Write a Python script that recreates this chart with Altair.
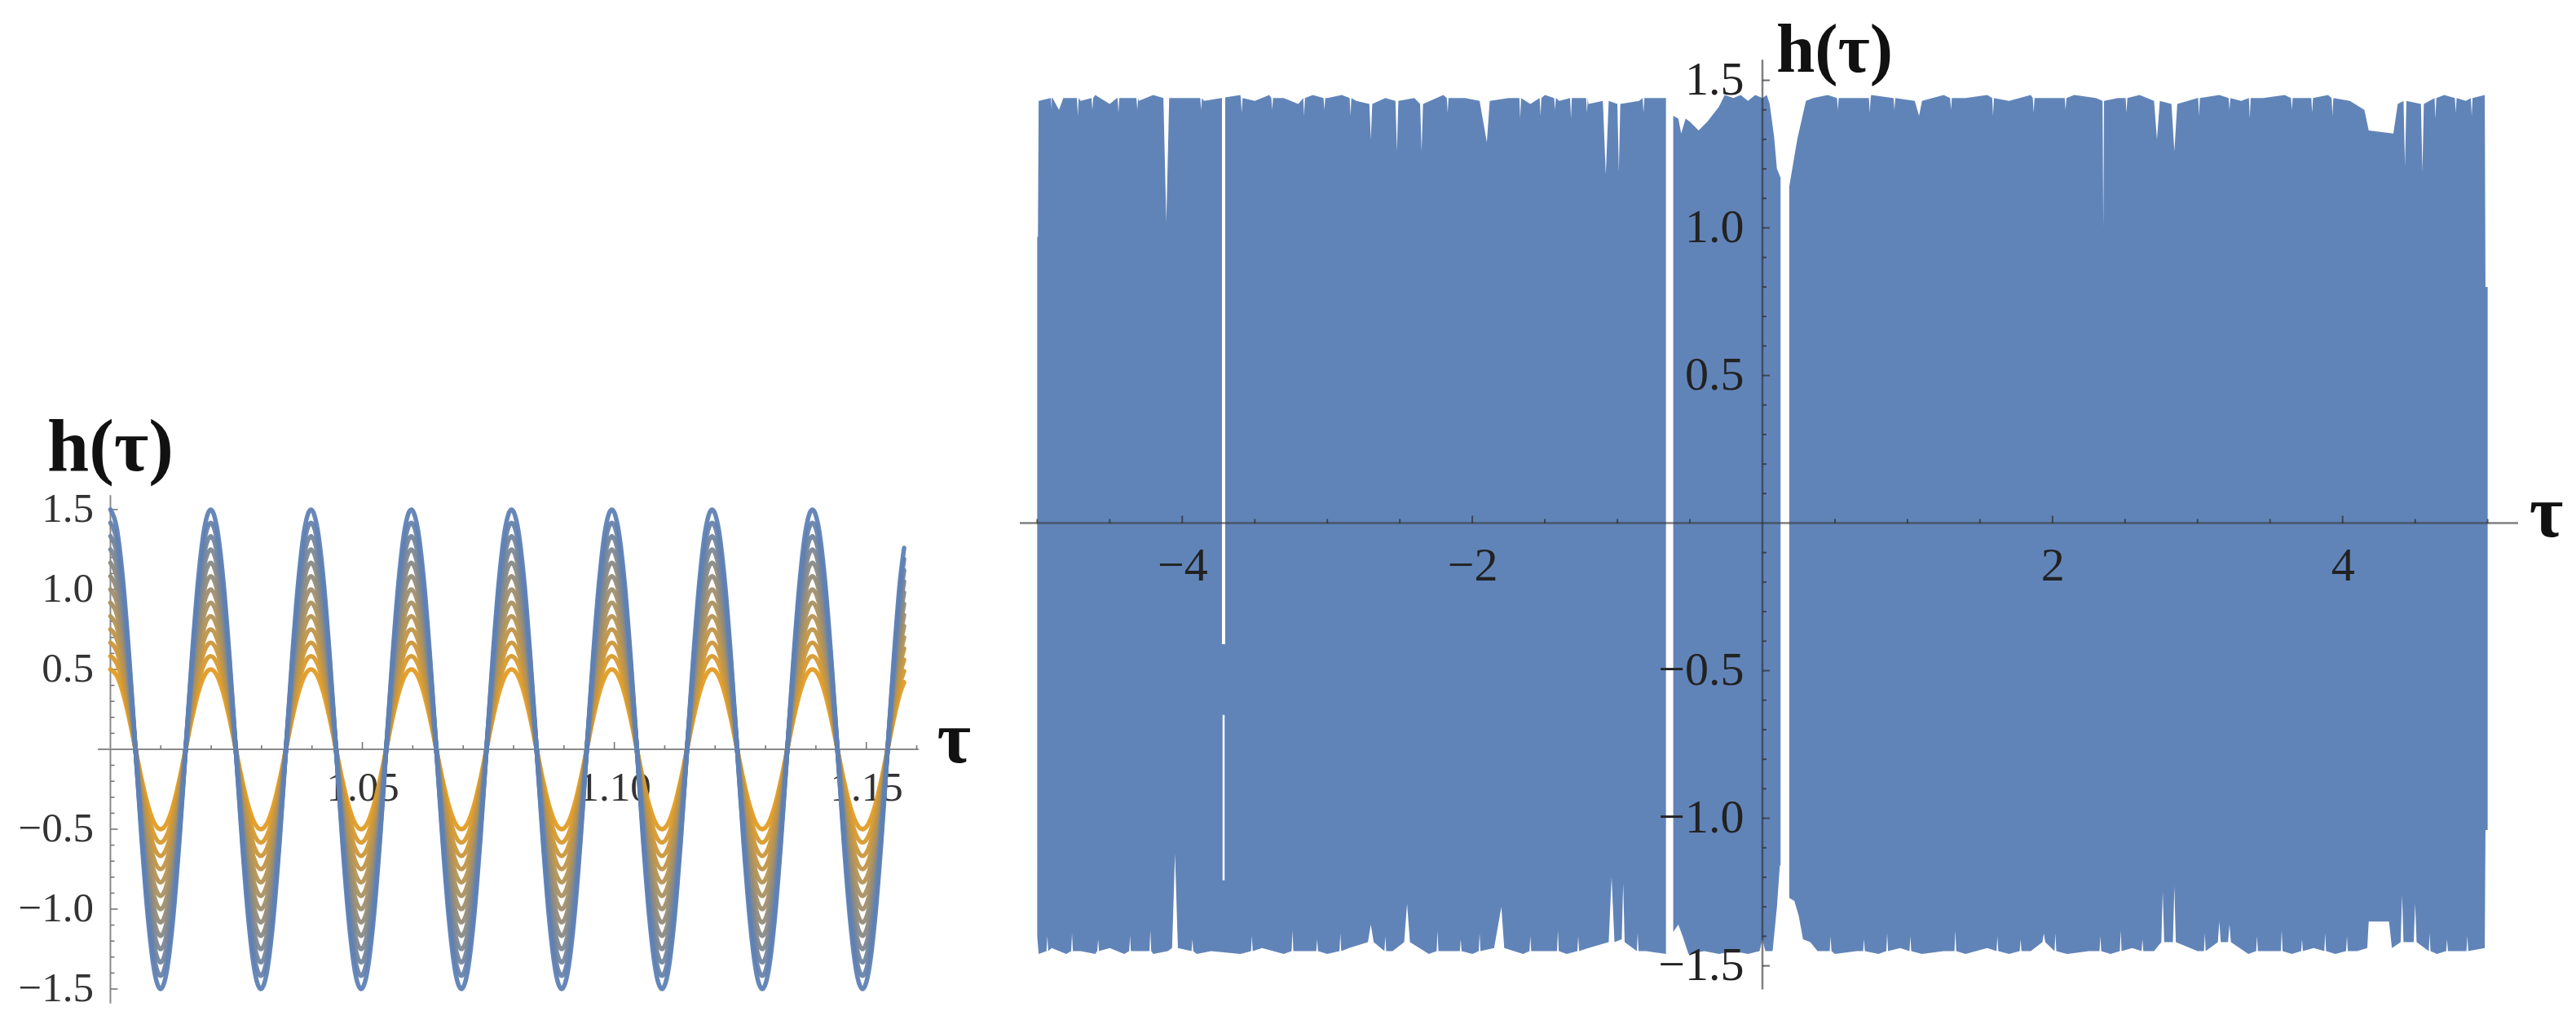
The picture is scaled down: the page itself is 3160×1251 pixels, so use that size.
import altair as alt
import pandas as pd

# ---------------- LEFT PANEL DATA: family of oscillations h(tau) ----------------
left_peak_x = [1.0000, 1.0199, 1.0398, 1.0597, 1.0796, 1.0995, 1.1194, 1.1393]
left_period = 0.0199
wave_phase = [k / 16 for k in range(16)]
wave_shape = [1.0, 0.924, 0.707, 0.383, 0.0, -0.383, -0.707, -0.924,
              -1.0, -0.924, -0.707, -0.383, 0.0, 0.383, 0.707, 0.924]
left_end_x = 1.1575
left_end_shape = 0.84
amplitudes = [0.5, 0.583, 0.667, 0.75, 0.833, 0.917, 1.0,
              1.083, 1.167, 1.25, 1.333, 1.417, 1.5]

left_x_labels = [1.05, 1.10, 1.15]
left_x_minor = [round(1.00 + k / 100, 2) for k in range(0, 17) if k % 5 != 0]
y_labels = [-1.5, -1.0, -0.5, 0.5, 1.0, 1.5]
y_minor = [k / 10 for k in range(-15, 16) if k % 5 != 0]

# ---------------- RIGHT PANEL DATA: envelope of dense oscillation ----------------
top_a = [(-5.00, 0.97), (-4.995, 0.97), (-4.99, 1.43), (-4.90, 1.44), (-4.85, 1.40), (-4.82, 1.44),
         (-4.70, 1.43), (-4.60, 1.45), (-4.50, 1.42), (-4.45, 1.44), (-4.30, 1.43), (-4.20, 1.45),
         (-4.13, 1.44), (-4.11, 1.02), (-4.09, 1.44), (-3.95, 1.44), (-3.85, 1.43), (-3.73, 1.44),
         (-3.60, 1.45), (-3.50, 1.43), (-3.40, 1.45), (-3.30, 1.44), (-3.20, 1.42), (-3.10, 1.45),
         (-3.00, 1.44), (-2.90, 1.45), (-2.80, 1.43), (-2.71, 1.42), (-2.70, 1.30), (-2.69, 1.42),
         (-2.60, 1.44), (-2.53, 1.43), (-2.52, 1.26), (-2.51, 1.43), (-2.40, 1.44), (-2.36, 1.42),
         (-2.35, 1.26), (-2.34, 1.42), (-2.20, 1.45), (-2.05, 1.44), (-1.95, 1.43), (-1.90, 1.29),
         (-1.88, 1.43), (-1.75, 1.44), (-1.60, 1.42), (-1.50, 1.45), (-1.40, 1.43), (-1.30, 1.44),
         (-1.20, 1.42), (-1.10, 1.43), (-1.08, 1.18), (-1.06, 1.43), (-1.00, 1.42), (-0.99, 1.19),
         (-0.98, 1.42), (-0.85, 1.43), (-0.75, 1.44), (-0.665, 1.44)]
bot_a = [(-5.00, -1.40), (-4.99, -1.46), (-4.90, -1.44), (-4.80, -1.46), (-4.70, -1.45), (-4.60, -1.46),
         (-4.50, -1.44), (-4.40, -1.46), (-4.30, -1.45), (-4.20, -1.46), (-4.10, -1.45), (-4.07, -1.44),
         (-4.05, -1.12), (-4.03, -1.44), (-3.90, -1.46), (-3.80, -1.45), (-3.60, -1.46), (-3.45, -1.44),
         (-3.30, -1.46), (-3.15, -1.45), (-3.00, -1.46), (-2.85, -1.44), (-2.72, -1.42), (-2.70, -1.36),
         (-2.68, -1.42), (-2.55, -1.45), (-2.47, -1.42), (-2.45, -1.29), (-2.43, -1.42), (-2.30, -1.46),
         (-2.15, -1.45), (-2.00, -1.46), (-1.85, -1.44), (-1.80, -1.30), (-1.78, -1.44), (-1.65, -1.46),
         (-1.50, -1.45), (-1.35, -1.46), (-1.20, -1.44), (-1.06, -1.42), (-1.04, -1.20), (-1.02, -1.42),
         (-0.97, -1.41), (-0.96, -1.22), (-0.95, -1.42), (-0.80, -1.45), (-0.665, -1.46)]
top_b = [(-0.615, 1.38), (-0.58, 1.37), (-0.56, 1.32), (-0.53, 1.37), (-0.50, 1.36), (-0.44, 1.33),
         (-0.38, 1.36), (-0.30, 1.41), (-0.26, 1.45), (-0.20, 1.44), (-0.15, 1.45), (-0.10, 1.43),
         (-0.05, 1.45), (0.00, 1.44), (0.03, 1.45), (0.05, 1.42), (0.08, 1.31), (0.10, 1.20), (0.125, 1.17)]
bot_b = [(-0.615, -1.385), (-0.58, -1.36), (-0.55, -1.40), (-0.51, -1.46), (-0.40, -1.45), (-0.30, -1.46),
         (-0.20, -1.45), (-0.10, -1.46), (-0.02, -1.45), (0.00, -1.41), (0.02, -1.45), (0.07, -1.45),
         (0.10, -1.30), (0.12, -1.16), (0.125, -1.16)]
top_c = [(0.185, 1.14), (0.24, 1.30), (0.30, 1.43), (0.35, 1.44), (0.45, 1.45), (0.60, 1.44), (0.75, 1.45),
         (0.90, 1.44), (1.05, 1.43), (1.08, 1.38), (1.10, 1.43), (1.25, 1.45), (1.40, 1.44), (1.55, 1.45),
         (1.70, 1.43), (1.85, 1.45), (2.00, 1.44), (2.15, 1.45), (2.30, 1.44), (2.345, 1.43), (2.35, 1.00),
         (2.355, 1.43), (2.45, 1.44), (2.60, 1.45), (2.70, 1.43), (2.72, 1.30), (2.74, 1.43), (2.82, 1.42),
         (2.84, 1.26), (2.86, 1.42), (3.00, 1.44), (3.15, 1.45), (3.30, 1.43), (3.45, 1.44), (3.60, 1.45),
         (3.75, 1.44), (3.90, 1.45), (4.05, 1.43), (4.15, 1.40), (4.18, 1.33), (4.35, 1.32), (4.38, 1.42),
         (4.42, 1.43), (4.43, 1.21), (4.44, 1.43), (4.54, 1.42), (4.55, 1.19), (4.56, 1.42), (4.70, 1.45),
         (4.85, 1.43), (4.98, 1.45), (4.985, 0.80), (5.00, 0.80)]
bot_c = [(0.185, -1.27), (0.22, -1.28), (0.25, -1.33), (0.28, -1.41), (0.33, -1.42), (0.38, -1.45),
         (0.50, -1.46), (0.65, -1.45), (0.80, -1.46), (0.95, -1.44), (1.10, -1.46), (1.25, -1.45),
         (1.40, -1.46), (1.55, -1.44), (1.70, -1.46), (1.85, -1.45), (1.93, -1.42), (1.94, -1.39),
         (1.95, -1.42), (2.10, -1.46), (2.25, -1.45), (2.40, -1.46), (2.55, -1.44), (2.70, -1.45),
         (2.75, -1.42), (2.76, -1.25), (2.77, -1.42), (2.83, -1.42), (2.84, -1.23), (2.85, -1.42),
         (3.00, -1.45), (3.14, -1.42), (3.15, -1.35), (3.16, -1.42), (3.21, -1.42), (3.22, -1.36),
         (3.23, -1.42), (3.35, -1.46), (3.50, -1.45), (3.65, -1.46), (3.80, -1.44), (3.95, -1.46),
         (4.10, -1.45), (4.17, -1.44), (4.18, -1.35), (4.32, -1.35), (4.34, -1.44), (4.40, -1.42),
         (4.41, -1.26), (4.42, -1.42), (4.49, -1.42), (4.50, -1.29), (4.51, -1.42), (4.65, -1.46),
         (4.80, -1.45), (4.98, -1.44), (4.985, -1.04), (5.00, -1.04)]
# fine notches in the upper and lower edge (tau, depth reached)
top_notch_x = [-4.90, -4.72, -4.62, -4.44, -4.31, -3.87, -3.59, -3.38, -3.16, -3.02, -2.84, -2.17,
               -1.67, -1.53, -1.43, -1.32, -1.21, -0.82, 0.52, 0.74, 0.91, 1.30, 1.59, 1.87, 2.09,
               2.51, 3.01, 3.22, 3.36, 3.65, 3.79, 3.93, 4.64, 4.78, 4.89]
top_notch_y = [1.40, 1.38, 1.40, 1.39, 1.40, 1.40, 1.39, 1.40, 1.38, 1.40, 1.38, 1.39,
               1.37, 1.38, 1.40, 1.37, 1.39, 1.39, 1.40, 1.39, 1.40, 1.40, 1.38, 1.39, 1.40,
               1.39, 1.38, 1.40, 1.37, 1.40, 1.39, 1.38, 1.37, 1.39, 1.38]
bot_notch_x = [-4.93, -4.76, -4.58, -4.36, -4.22, -3.93, -3.52, -3.24, -3.07, -2.91, -2.60, -2.24,
               -2.08, -1.95, -1.60, -1.41, -1.27, -0.86, 0.47, 0.70, 0.86, 1.02, 1.33, 1.62, 1.78,
               2.02, 2.33, 2.47, 2.62, 3.05, 3.41, 3.58, 3.72, 3.88, 4.03, 4.60, 4.72, 4.86]
bot_notch_y = [-1.40, -1.39, -1.41, -1.40, -1.38, -1.41, -1.40, -1.38, -1.41, -1.39, -1.40, -1.38,
               -1.41, -1.39, -1.40, -1.38, -1.40, -1.39, -1.40, -1.41, -1.39, -1.40, -1.38, -1.40, -1.41,
               -1.39, -1.40, -1.38, -1.41, -1.39, -1.40, -1.38, -1.41, -1.39, -1.40, -1.39, -1.41, -1.40]
NOTCH_HALF = 0.006
TOP_SHOULDER, BOT_SHOULDER = 1.44, -1.45

# thin white break near tau = -3.715 (two pieces)
thin_gap_x = [-3.715, -3.715]
thin_gap_y1 = [1.47, -0.65]
thin_gap_y2 = [-0.41, -1.21]

right_x_labels = [-4, -2, 2, 4]
right_x_minor = [k / 2 for k in range(-10, 11) if k % 4 != 0]

# ---------------- GEOMETRY / STYLE ----------------
LW, LH = 1007, 1224
LX = [0.9975, 1.1604]
LY = [-1.597, 4.648]
RW, RH = 1838, 1224
RX = [-5.12, 5.21]
RY = [-1.631, 1.75]
SERIF = "Liberation Serif"
ORANGE, BLUE = "#e19c24", "#5e81b5"
FILL = "#6184b8"


def frac(dom, v=0.0):
    return (v - dom[0]) / (dom[1] - dom[0])


l_ppx = LW / (LX[1] - LX[0])
l_ppy = LH / (LY[1] - LY[0])
r_ppx = RW / (RX[1] - RX[0])
r_ppy = RH / (RY[1] - RY[0])

lxs = alt.Scale(domain=LX, nice=False, zero=False)
lys = alt.Scale(domain=LY, nice=False, zero=False)
rxs = alt.Scale(domain=RX, nice=False, zero=False)
rys = alt.Scale(domain=RY, nice=False, zero=False)

lx_axis = alt.Axis(values=left_x_labels, format=".2f", domain=False, ticks=False, tickSize=0, grid=False,
                   labelFont=SERIF, labelFontSize=51, labelColor="#333", labelBaseline="middle",
                   labelPadding=48, labelFlush=False, labelOverlap=False,
                   offset=-frac(LY) * LH, zindex=0)
ly_axis = alt.Axis(values=y_labels, format=".1f", domain=False, ticks=False, tickSize=0, grid=False,
                   labelFont=SERIF, labelFontSize=51, labelColor="#333", labelAlign="right",
                   labelPadding=21, labelFlush=False, labelOverlap=False,
                   offset=-frac(LX, 1.0) * LW, zindex=0)
rx_axis = alt.Axis(values=right_x_labels, format="d", domain=False, ticks=False, tickSize=0, grid=False,
                   labelFont=SERIF, labelFontSize=58, labelColor="#222", labelBaseline="middle",
                   labelPadding=53, labelFlush=False, labelOverlap=False,
                   offset=-frac(RY) * RH, zindex=1)
ry_axis = alt.Axis(values=y_labels, format=".1f", domain=False, ticks=False, tickSize=0, grid=False,
                   labelFont=SERIF, labelFontSize=58, labelColor="#222", labelAlign="right",
                   labelPadding=23, labelFlush=False, labelOverlap=False,
                   offset=-frac(RX) * RW, zindex=1)


def LXe(f="x"):
    return alt.X(f + ":Q", scale=lxs, axis=lx_axis, title=None)


def LYe(f="y"):
    return alt.Y(f + ":Q", scale=lys, axis=ly_axis, title=None)


def RXe(f="x"):
    return alt.X(f + ":Q", scale=rxs, axis=rx_axis, title=None)


def RYe(f="y"):
    return alt.Y(f + ":Q", scale=rys, axis=ry_axis, title=None)


# ---------------- LEFT PANEL ----------------
rows = []
for a in amplitudes:
    for p in left_peak_x:
        for ph, s in zip(wave_phase, wave_shape):
            xv = p + ph * left_period
            if xv <= left_end_x:
                rows.append({"x": xv, "y": a * s, "amp": a})
    rows.append({"x": left_end_x, "y": a * left_end_shape, "amp": a})
curves = pd.DataFrame(rows)

l_axes = pd.DataFrame([{"x": LX[0], "x2": LX[1], "y": 0.0, "y2": 0.0},
                       {"x": 1.0, "x2": 1.0, "y": -1.59, "y2": 1.59}])
l_ticks = pd.DataFrame(
    [{"x": v, "x2": v, "y": 0.0, "y2": 9 / l_ppy} for v in left_x_labels]
    + [{"x": v, "x2": v, "y": 0.0, "y2": 5 / l_ppy} for v in left_x_minor]
    + [{"x": 1.0, "x2": 1.0 + 9 / l_ppx, "y": v, "y2": v} for v in y_labels]
    + [{"x": 1.0, "x2": 1.0 + 5 / l_ppx, "y": v, "y2": v} for v in y_minor]
)
l_text = pd.DataFrame([{"x": 1.0, "y": 1.888, "t": "h(τ)"}])
l_tau = pd.DataFrame([{"x": 1.1674, "y": -0.08, "t": "τ"}])

left_axis_lines = alt.Chart(l_axes).mark_rule(color="#8a8a8a", strokeWidth=2).encode(
    x=LXe(), x2="x2:Q", y=LYe(), y2="y2:Q")
left_ticks = alt.Chart(l_ticks).mark_rule(color="#777", strokeWidth=1.6).encode(
    x=LXe(), x2="x2:Q", y=LYe(), y2="y2:Q")
left_lines = alt.Chart(curves).mark_line(strokeWidth=5.5, interpolate="monotone", strokeCap="round",
                                          opacity=0.95).encode(
    x=LXe(), y=LYe(),
    color=alt.Color("amp:Q", scale=alt.Scale(domain=[0.5, 1.5], range=[ORANGE, BLUE], interpolate="rgb"),
                    legend=None),
    detail="amp:Q")
left_title = alt.Chart(l_text).mark_text(font=SERIF, fontSize=92, fontWeight="bold", color="#111",
                                         align="center", baseline="middle").encode(
    x=LXe(), y=LYe(), text="t:N")
left_tau = alt.Chart(l_tau).mark_text(font=SERIF, fontSize=90, fontWeight="bold", color="#111",
                                      align="center", baseline="alphabetic").encode(
    x=LXe(), y=LYe(), text="t:N")

left = alt.layer(left_axis_lines, left_ticks, left_lines, left_title, left_tau).properties(
    width=LW, height=LH)

# ---------------- RIGHT PANEL ----------------
segments = {"ta": list(top_a), "ba": list(bot_a), "tb": list(top_b),
            "bb": list(bot_b), "tc": list(top_c), "bc": list(bot_c)}


def seg_for(xv, kind):
    if xv < -0.665:
        return kind + "a"
    if xv < 0.13:
        return kind + "b"
    return kind + "c"


for nx, ny in zip(top_notch_x, top_notch_y):
    segments[seg_for(nx, "t")] += [(nx - NOTCH_HALF, TOP_SHOULDER), (nx, ny), (nx + NOTCH_HALF, TOP_SHOULDER)]
for nx, ny in zip(bot_notch_x, bot_notch_y):
    segments[seg_for(nx, "b")] += [(nx - NOTCH_HALF, BOT_SHOULDER), (nx, ny), (nx + NOTCH_HALF, BOT_SHOULDER)]

env_rows = []
for name, seg in segments.items():
    for xv, yv in sorted(seg):
        env_rows.append({"x": xv, "y": yv, "y0": 0.0, "seg": name})
env = pd.DataFrame(env_rows)

gap_df = pd.DataFrame({"x": thin_gap_x, "y": thin_gap_y1, "y2": thin_gap_y2, "w": ["a", "b"]})

r_axes = pd.DataFrame([{"x": RX[0], "x2": RX[1], "y": 0.0, "y2": 0.0},
                       {"x": 0.0, "x2": 0.0, "y": -1.58, "y2": 1.57}])
r_ticks = pd.DataFrame(
    [{"x": v, "x2": v, "y": 0.0, "y2": 9 / r_ppy} for v in right_x_labels]
    + [{"x": v, "x2": v, "y": 0.0, "y2": 5 / r_ppy} for v in right_x_minor]
    + [{"x": 0.0, "x2": 9 / r_ppx, "y": v, "y2": v} for v in y_labels]
    + [{"x": 0.0, "x2": 5 / r_ppx, "y": v, "y2": v} for v in y_minor]
)
r_text = pd.DataFrame([{"x": 0.0, "y": 1.60, "t": "h(τ)"}])
r_tau = pd.DataFrame([{"x": 5.404, "y": -0.046, "t": "τ"}])

right_area = alt.Chart(env).mark_area(color=FILL, opacity=1).encode(
    x=RXe(), y=RYe(), y2="y0:Q", detail="seg:N")
right_gap_a = alt.Chart(gap_df[gap_df.w == "a"]).mark_rule(color="white", strokeWidth=4).encode(
    x=RXe(), y=RYe(), y2="y2:Q")
right_gap_b = alt.Chart(gap_df[gap_df.w == "b"]).mark_rule(color="white", strokeWidth=2.5).encode(
    x=RXe(), y=RYe(), y2="y2:Q")
right_axis_lines = alt.Chart(r_axes).mark_rule(color="#2b2b2b", strokeWidth=2.5, opacity=0.6).encode(
    x=RXe(), x2="x2:Q", y=RYe(), y2="y2:Q")
right_ticks = alt.Chart(r_ticks).mark_rule(color="#2b2b2b", strokeWidth=2, opacity=0.7).encode(
    x=RXe(), x2="x2:Q", y=RYe(), y2="y2:Q")
right_title = alt.Chart(r_text).mark_text(font=SERIF, fontSize=85, fontWeight="bold", color="#111",
                                          align="left", baseline="middle", dx=17).encode(
    x=RXe(), y=RYe(), text="t:N")
right_tau = alt.Chart(r_tau).mark_text(font=SERIF, fontSize=90, fontWeight="bold", color="#111",
                                       align="center", baseline="alphabetic").encode(
    x=RXe(), y=RYe(), text="t:N")

right = alt.layer(right_area, right_gap_a, right_gap_b, right_axis_lines, right_ticks,
                  right_title, right_tau).properties(width=RW, height=RH)

chart = alt.hconcat(left, right, spacing=57).properties(
    padding={"left": 13, "top": 0, "right": 0, "bottom": 0},
    background="white",
).configure_view(strokeWidth=0)

chart.save("out.html", embed_options={"renderer": "svg", "actions": False})
